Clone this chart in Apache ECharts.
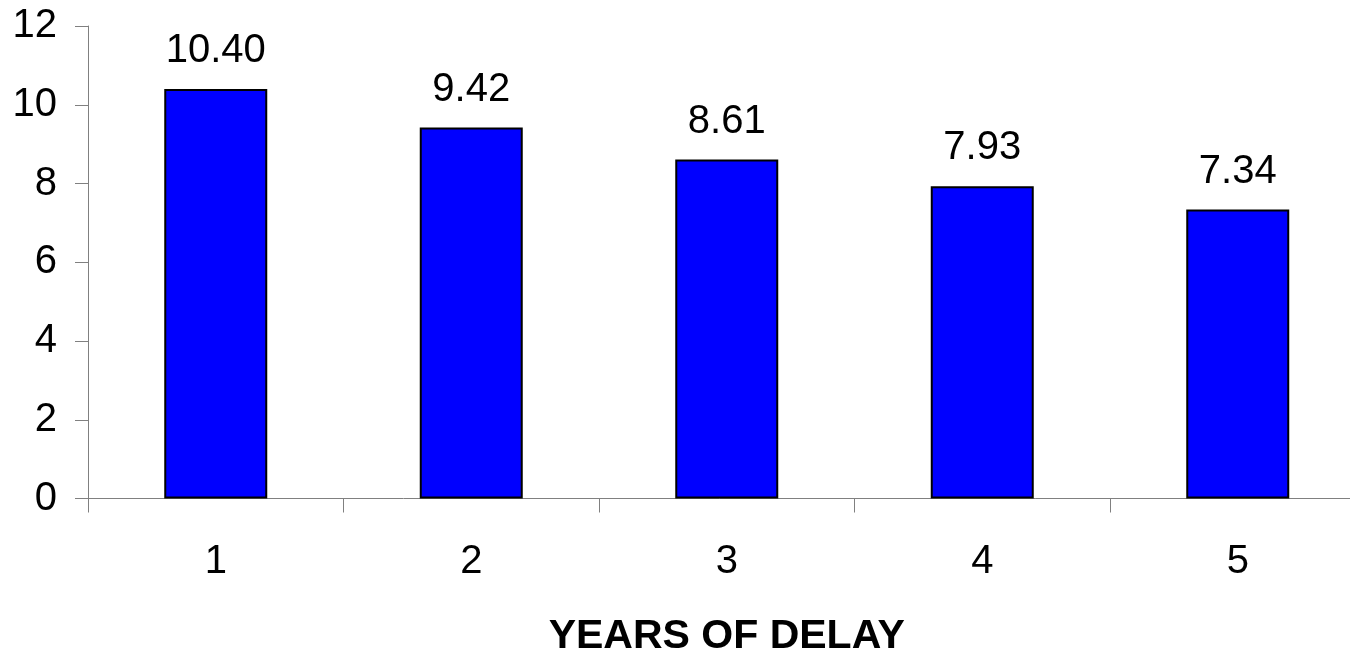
<!DOCTYPE html>
<html>
<head>
<meta charset="utf-8">
<script src="https://cdn.jsdelivr.net/npm/echarts@6/dist/echarts.min.js"></script>
<style>
  html, body { margin: 0; padding: 0; background: #fff; }
  #chart { width: 1350px; height: 653px; }
</style>
</head>
<body>
<div id="chart"></div>
<script>
// Years of delay on the category axis
const years = ['1', '2', '3', '4', '5'];
// Value for each year of delay
const values = [10.40, 9.42, 8.61, 7.93, 7.34];
// Value axis range
const yMin = 0;
const yMax = 12;
const yStep = 2;

const axisGray = '#808080';
const font = '"Liberation Sans", Arial, sans-serif';

const chart = echarts.init(document.getElementById('chart'), null, { renderer: 'canvas' });
chart.setOption({
  animation: false,
  backgroundColor: '#ffffff',
  grid: {
    left: 88, top: 26, width: 1277.5, height: 472.5,
    containLabel: false,
    outerBoundsMode: 'none'
  },
  xAxis: {
    type: 'category',
    data: years,
    boundaryGap: true,
    name: 'YEARS OF DELAY',
    nameLocation: 'middle',
    nameGap: 118,
    nameTextStyle: { fontFamily: font, fontSize: 41, fontWeight: 'bold', color: '#000' },
    axisLine: { show: true, lineStyle: { color: axisGray, width: 1 } },
    axisTick: { show: true, length: 14, lineStyle: { color: axisGray, width: 1 } },
    axisLabel: { fontFamily: font, fontSize: 40, color: '#000', margin: 43 },
    splitLine: { show: false }
  },
  yAxis: {
    type: 'value',
    min: yMin,
    max: yMax,
    interval: yStep,
    axisLine: { show: true, lineStyle: { color: axisGray, width: 1 } },
    axisTick: { show: true, length: 13, lineStyle: { color: axisGray, width: 1 } },
    axisLabel: { fontFamily: font, fontSize: 40, color: '#000', margin: 31 },
    splitLine: { show: false }
  },
  series: [{
    type: 'bar',
    data: values,
    barWidth: 103,
    itemStyle: { color: '#0000FF', borderColor: '#000000', borderWidth: 2 },
    label: {
      show: true,
      position: 'top',
      distance: 18,
      fontFamily: font,
      fontSize: 40,
      color: '#000',
      formatter: p => p.value.toFixed(2)
    }
  }]
});
</script>
</body>
</html>
